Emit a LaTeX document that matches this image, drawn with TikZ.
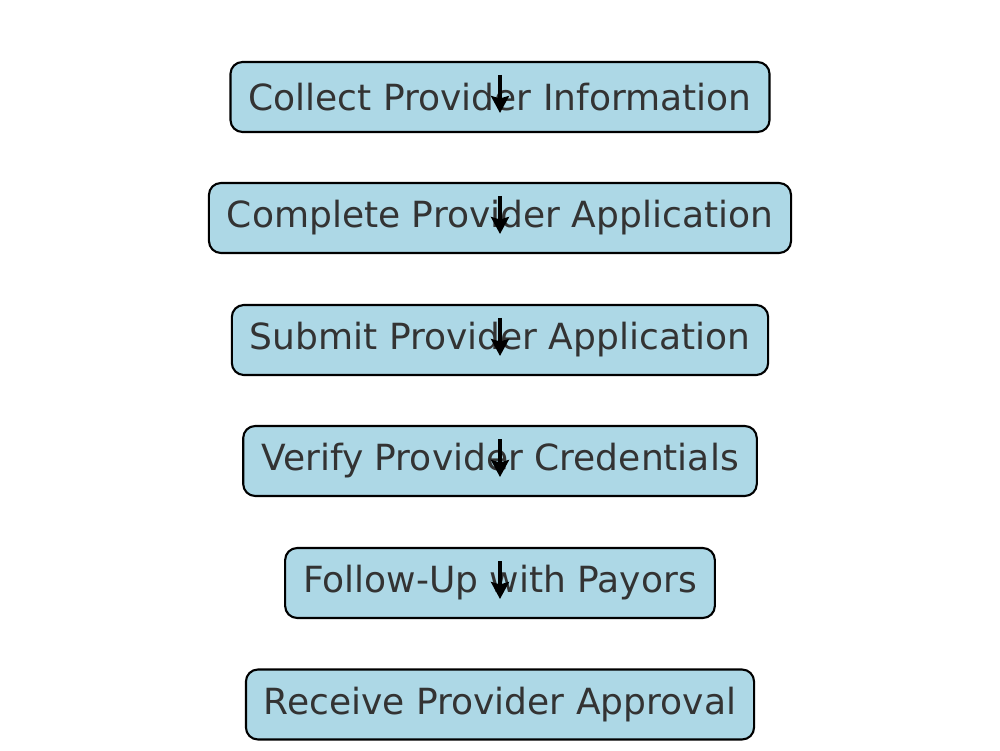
\documentclass[tikz,border=0pt]{standalone}
\usepackage{fontspec}
\setmainfont{DejaVu Sans}
\usepackage{tikz}
\usetikzlibrary{arrows.meta}
\definecolor{boxblue}{HTML}{ADD8E6}
\definecolor{boxtext}{HTML}{333333}
\tikzset{stepbox/.style={draw=black, line width=1.2pt, rounded corners=0.24cm, fill=boxblue, text=boxtext, font=\fontsize{20.5}{24}\selectfont, minimum height=1.4cm, inner xsep=0.36cm}}
\tikzset{flow/.style={draw=black, line width=1.9pt, -{Stealth[length=0.34cm, width=0.36cm, inset=0.05cm]}}}

\begin{document}
\begin{tikzpicture}
\useasboundingbox (0,0) rectangle (20,15);
\node[stepbox] (collect) at (10,13.06) {Collect Provider Information};
\node[stepbox] (complete) at (10,10.64) {Complete Provider Application};
\node[stepbox] (submit) at (10,8.20) {Submit Provider Application};
\node[stepbox] (verify) at (10,5.78) {Verify Provider Credentials};
\node[stepbox] (follow) at (10,3.34) {Follow-Up with Payors};
\node[stepbox] (receive) at (10,0.91) {Receive Provider Approval};
% arrows sit inside each box
\foreach \n in {collect, complete, submit, verify, follow} {
  \coordinate (\n-top) at ([yshift=0.44cm]\n.center);
  \coordinate (\n-bot) at ([yshift=-0.32cm]\n.center);
  \draw[flow] (\n-top) -- (\n-bot);
}
\end{tikzpicture}
\end{document}
